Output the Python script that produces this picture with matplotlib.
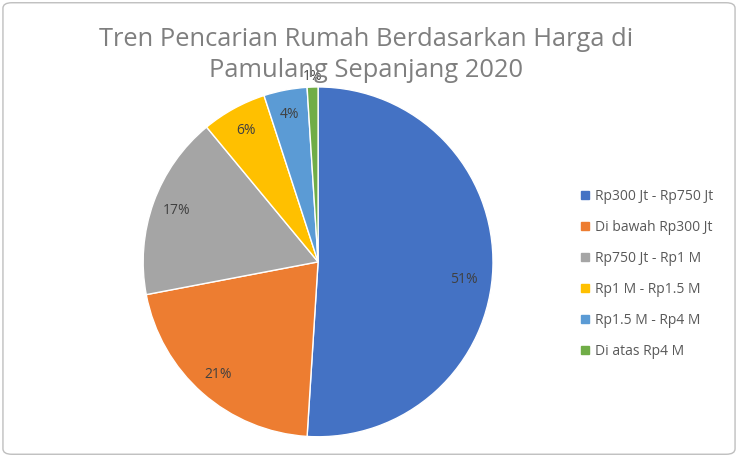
import numpy as np
import matplotlib.pyplot as plt
from matplotlib.patches import FancyBboxPatch
from matplotlib.lines import Line2D

labels = ["Rp300 Jt - Rp750 Jt", "Di bawah Rp300 Jt", "Rp750 Jt - Rp1 M",
          "Rp1 M - Rp1.5 M", "Rp1.5 M - Rp4 M", "Di atas Rp4 M"]
shares = [51, 21, 17, 6, 4, 1]
colors = ["#4472C4", "#ED7D31", "#A5A5A5", "#FFC000", "#5B9BD5", "#70AD47"]
title = "Tren Pencarian Rumah Berdasarkan Harga di\nPamulang Sepanjang 2020"

plt.rcParams['font.family'] = ['Open Sans', 'DejaVu Sans']

fig = plt.figure(figsize=(7.38, 4.57), dpi=100)

# chart area border
border = FancyBboxPatch((0.004, 0.006), 0.992, 0.988, boxstyle="round,pad=0,rounding_size=0.012",
                        transform=fig.transFigure, facecolor="none", edgecolor="#BFBFBF", lw=1)
fig.patches.append(border)

ax = fig.add_axes([0.194, 0.044, 0.474, 0.766])
wedges, texts, autotexts = ax.pie(shares, colors=colors, startangle=90, counterclock=False,
                                  autopct="%d%%", pctdistance=0.86,
                                  wedgeprops=dict(edgecolor="white", linewidth=1),
                                  textprops=dict(color="#404040", fontsize=10))
ax.set_xlim(-1, 1)
ax.set_ylim(-1, 1)
ax.set_aspect("equal")

# excel "best fit" style tweaks: big slice label a bit lower, tiny slice outside
w = wedges[0]
mid = np.deg2rad((w.theta1 + w.theta2) / 2 - 5)
autotexts[0].set_position((0.84 * np.cos(mid), 0.84 * np.sin(mid)))
w = wedges[-1]
mid = np.deg2rad((w.theta1 + w.theta2) / 2)
autotexts[-1].set_position((1.06 * np.cos(mid), 1.06 * np.sin(mid)))

fig.text(0.496, 0.88, title, ha="center", va="center", fontsize=18.4,
         color="#7F7F7F", linespacing=1.3)

handles = [Line2D([], [], marker="s", linestyle="", markersize=6, color=c) for c in colors]
leg = fig.legend(handles, labels, loc="center left", bbox_to_anchor=(0.77, 0.4),
                 frameon=False, fontsize=10, labelspacing=1.15, handlelength=0.6,
                 handletextpad=0.4)
for t in leg.get_texts():
    t.set_color("#595959")

fig.savefig("out.png", dpi=100)
